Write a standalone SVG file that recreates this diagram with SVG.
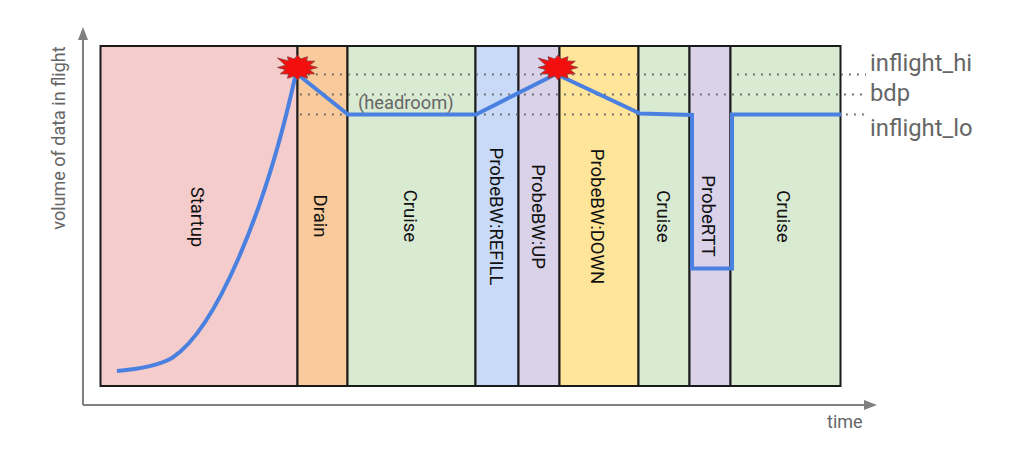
<svg xmlns="http://www.w3.org/2000/svg" width="1024" height="457" viewBox="0 0 1024 457">
<style>
.p{stroke:#1a1a1a;stroke-width:2}
.t{font-family:Roboto,"Liberation Sans",sans-serif;fill:#111;font-size:18.500px;text-anchor:middle}
.g{font-family:Roboto,"Liberation Sans",sans-serif;fill:#666;}
.d{fill:none;stroke:#666;stroke-width:1.8;stroke-dasharray:1.8 6.2}
.a{fill:none;stroke:#808080;stroke-width:2}
.c{fill:none;stroke:#4a80e0;stroke-width:4;stroke-linejoin:miter}
.s{fill:#f40f0f;stroke:#8a3a3a;stroke-width:.8}
</style>
<defs>
<path id="star" d="M20 0L12 2.200L17.300 6.300L9 6.500L10 10.800L3.200 8.500L0 12.500L-3.200 8.500L-10 10.800L-9 6.500L-17.300 6.300L-12 2.200L-20 0L-12-2.200L-20-9.500L-9-6.500L-10-10.800L-3.200-8.500L0-12.500L3.200-8.500L10-10.800L9-6.500L17.300-6.300L12-2.200Z"/>
</defs>
<rect width="1024" height="457" fill="#fff"/>
<g id="startup"><rect class="p" x="100.500" y="46" width="197" height="340" fill="#f4cccc"/><text class="t" transform="translate(191,217) rotate(90)">Startup</text></g>
<g id="drain"><rect class="p" x="297.500" y="46" width="50" height="340" fill="#f9cb9c"/><text class="t" transform="translate(314,216) rotate(90)">Drain</text></g>
<g id="cruise1"><rect class="p" x="347.500" y="46" width="128" height="340" fill="#d9ead3"/><text class="t" transform="translate(404,216) rotate(90)">Cruise</text></g>
<g id="refill"><rect class="p" x="475.500" y="46" width="43" height="340" fill="#c9daf8"/><text class="t" transform="translate(489.500,216.500) rotate(90)">ProbeBW:REFILL</text></g>
<g id="up"><rect class="p" x="518.500" y="46" width="41" height="340" fill="#d9d2e9"/><text class="t" transform="translate(532,216.500) rotate(90)">ProbeBW:UP</text></g>
<g id="down"><rect class="p" x="559.500" y="46" width="79" height="340" fill="#ffe599"/><text class="t" transform="translate(591,216.500) rotate(90)">ProbeBW:DOWN</text></g>
<g id="cruise2"><rect class="p" x="638.500" y="46" width="51" height="340" fill="#d9ead3"/><text class="t" transform="translate(657,216.500) rotate(90)">Cruise</text></g>
<g id="probertt"><rect class="p" x="689.500" y="46" width="41" height="340" fill="#d9d2e9"/><text class="t" transform="translate(702,216) rotate(90)">ProbeRTT</text></g>
<g id="cruise3"><rect class="p" x="730.500" y="46" width="110" height="340" fill="#d9ead3"/><text class="t" transform="translate(777,216.500) rotate(90)">Cruise</text></g>
<g id="connectors">
<path class="a" d="M83 405V36"/><path d="M83 27l-5 13h10z" fill="#808080"/>
<path class="a" d="M83 405H866"/><path d="M877 405l-13-5v10z" fill="#808080"/>
<path class="d" d="M300 74.500H687M737 74.500H866M300 94.500H866M300 114.500H640M846 114.500H866"/>
<path class="c" d="M117 371C140 369 158 366 172 358C215 330 265 215 296 73L348 114.500H476L556 74L640 113.500L692 115V268.500H732V114.500H841"/>
</g>
<g id="burst1"><use href="#star" class="s" x="297.500" y="67.500"/></g>
<g id="burst2"><use href="#star" class="s" x="558" y="67.500"/></g>
<g id="labels">
<text class="g" x="358" y="109" font-size="18.300">(headroom)</text>
<text class="g" x="870" y="71" font-size="23.800">inflight_hi</text>
<text class="g" x="870" y="101" font-size="23.800">bdp</text>
<text class="g" x="870" y="136" font-size="23.800">inflight_lo</text>
<text class="g" x="827" y="428" font-size="18">time</text>
<text class="g" font-size="18" text-anchor="middle" transform="translate(65,138) rotate(-90)">volume of data in flight</text>
</g>
</svg>
